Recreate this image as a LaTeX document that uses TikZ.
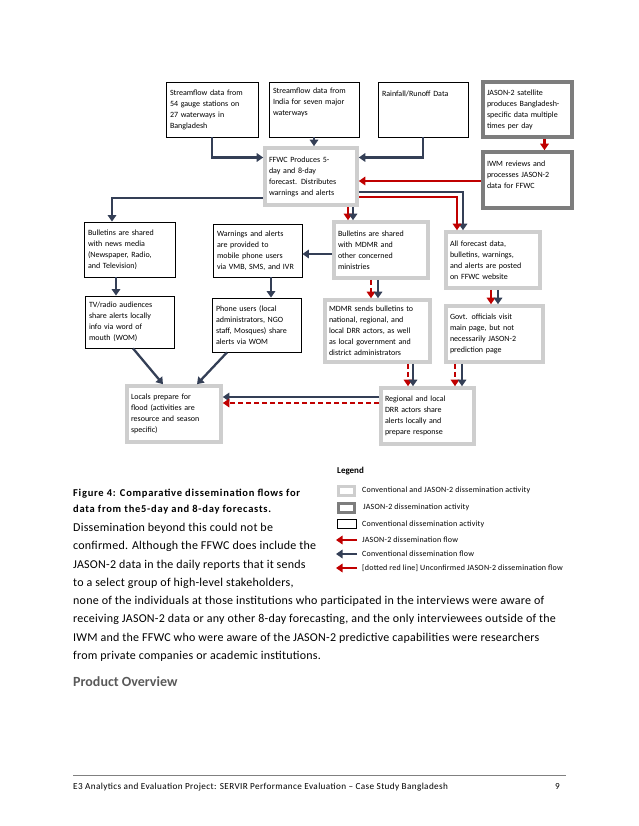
\documentclass[tikz,border=0pt]{standalone}
\usepackage{fontspec}
\setmainfont{Carlito}
\usepackage{tikz}
\usetikzlibrary{positioning, arrows.meta, calc}

\definecolor{jred}{RGB}{192,0,0}
\definecolor{navy}{RGB}{52,63,86}
\definecolor{lightrim}{RGB}{206,206,206}
\definecolor{darkrim}{RGB}{125,125,125}
\definecolor{heading}{RGB}{89,89,89}

\begin{document}
\begin{tikzpicture}[
  x=1pt, y=-1pt,
  activity/.style={align=left, inner xsep=4pt, inner ysep=4pt, fill=white, font=\fontsize{8}{11}\selectfont},
  conv/.style={activity, draw=black, line width=0.8pt},
  both/.style={activity, draw=lightrim, line width=3.6pt},
  jason/.style={activity, draw=darkrim, line width=3.6pt},
  flow/.style={line width=2.3pt, -{Triangle[length=6.5pt,width=8.5pt]}},
  cflow/.style={flow, draw=navy},
  jflow/.style={flow, draw=jred},
  uflow/.style={jflow, dash pattern=on 5pt off 3pt},
  body/.style={anchor=base west, inner sep=0pt, font=\fontsize{12}{14}\selectfont\addfontfeature{LetterSpace=2}},
  keytext/.style={anchor=west, inner sep=0pt, font=\fontsize{8}{9}\selectfont\addfontfeature{LetterSpace=3}},
  captext/.style={anchor=base west, inner sep=0pt, font=\fontsize{10.5}{12}\selectfont\bfseries\addfontfeature{LetterSpace=7}}
]
\useasboundingbox (0,0) rectangle (638,826);

% Sources
\node[conv, text width=84pt, minimum height=55pt] (srcgauge) at (212,109.5) {Streamflow data from\\54 gauge stations on\\27 waterways in\\Bangladesh};
\node[conv, text width=82pt, minimum height=55pt, text depth=37pt] (srcindia) at (314,109.5) {Streamflow data from\\India for seven major\\waterways};
\node[conv, text width=82pt, minimum height=55pt, text depth=31pt] (rainfall) at (423,109.5) {Rainfall/Runoff Data};
\node[jason, text width=81pt, minimum height=55pt] (jsat) at (527.5,109.5) {JASON-2 satellite\\produces Bangladesh-\\specific data multiple\\times per day};

% Forecast centre
\node[both, text width=84pt, minimum height=57pt] (ffwc) at (311,176.5) {FFWC Produces 5-\\day and 8-day\\forecast. Distributes\\warnings and alerts};
\node[jason, text width=81pt, minimum height=56pt, text depth=32pt] (iwm) at (527.5,180) {IWM reviews and\\processes JASON-2\\data for FFWC};

% Second row
\node[conv, text width=83pt, minimum height=55pt] (news) at (129.5,249.5) {Bulletins are shared\\with news media\\(Newspaper, Radio,\\and Television)};
\node[conv, text width=81pt, minimum height=53pt] (warn) at (257.5,250.5) {Warnings and alerts\\are provided to\\mobile phone users\\via VMB, SMS, and IVR};
\node[both, text width=86pt, minimum height=56pt] (bmdmr) at (381,250) {Bulletins are shared\\with MDMR and\\other concerned\\ministries};
\node[both, text width=86pt, minimum height=56pt] (web) at (493,260) {All forecast data,\\bulletins, warnings,\\and alerts are posted\\on FFWC website};

% Third row
\node[conv, text width=81pt, minimum height=52pt] (tv) at (129.5,322) {TV/radio audiences\\share alerts locally\\info via word of\\mouth (WOM)};
\node[conv, text width=81pt, minimum height=54pt] (phone) at (256.5,325) {Phone users (local\\administrators, NGO\\staff, Mosques) share\\alerts via WOM};
\node[both, text width=97pt, minimum height=62pt] (sends) at (377.5,331) {MDMR sends bulletins to\\national, regional, and\\local DRR actors, as well\\as local government and\\district administrators};
\node[both, text width=89pt, minimum height=56pt] (govt) at (494.5,334) {Govt. officials visit\\main page, but not\\necessarily JASON-2\\prediction page};

% Last row
\node[both, text width=86pt, minimum height=56pt] (locals) at (174,414) {Locals prepare for\\flood (activities are\\resource and season\\specific)};
\node[both, text width=85pt, minimum height=56pt] (regional) at (427.5,416) {Regional and local\\DRR actors share\\alerts locally and\\prepare response};

% Flows into FFWC
\draw[cflow] (srcgauge.south) |- ([yshift=19pt]ffwc.west);
\draw[cflow] (srcindia.south) -- (srcindia.south |- ffwc.north);
\draw[cflow] (rainfall.south) |- ([yshift=19pt]ffwc.east);
\draw[jflow] ([xshift=17pt]jsat.south) -- ([xshift=17pt]jsat.south |- iwm.north);
\draw[jflow] ([yshift=-1pt]iwm.west) -- ([yshift=-1pt]iwm.west -| ffwc.east);

% Flows out of FFWC
\draw[cflow] ([yshift=-21.5pt]ffwc.west) -| ([xshift=-17.5pt]news.north);
\draw[jflow] ([xshift=37pt]ffwc.south) -- ([xshift=37pt]ffwc.south |- bmdmr.north);
\draw[cflow] ([xshift=42pt]ffwc.south) -- ([xshift=42pt]ffwc.south |- bmdmr.north);
\draw[cflow] ([yshift=-15.5pt]ffwc.east) -| ([xshift=-30pt]web.north);
\draw[jflow] ([yshift=-20.5pt]ffwc.east) -| ([xshift=-36pt]web.north);

% Second row onwards
\draw[cflow] ([yshift=-4pt]bmdmr.west) -- ([yshift=-4pt]bmdmr.west -| warn.east);
\draw[cflow] ([xshift=-13.5pt]news.south) -- ([xshift=-13.5pt]news.south |- tv.north);
\draw[cflow] ([xshift=13.5pt]warn.south) -- ([xshift=13.5pt]warn.south |- phone.north);
\draw[uflow] ([xshift=-10pt]bmdmr.south) -- ([xshift=-10pt]bmdmr.south |- sends.north);
\draw[cflow] ([xshift=-3pt]bmdmr.south) -- ([xshift=-3pt]bmdmr.south |- sends.north);
\draw[jflow] ([xshift=-2pt]web.south) -- ([xshift=-2pt]web.south |- govt.north);
\draw[cflow] ([xshift=5pt]web.south) -- ([xshift=5pt]web.south |- govt.north);

% Towards local action
\draw[cflow] ([xshift=3.5pt]tv.south) -- ([xshift=-11pt]locals.north);
\draw[cflow] ([xshift=-29.5pt]phone.south) -- ([xshift=23pt]locals.north);
\draw[uflow] ([xshift=30.5pt]sends.south) -- ([xshift=30.5pt]sends.south |- regional.north);
\draw[cflow] ([xshift=35.5pt]sends.south) -- ([xshift=35.5pt]sends.south |- regional.north);
\draw[uflow] ([xshift=-39.5pt]govt.south) -- ([xshift=-39.5pt]govt.south |- regional.north);
\draw[cflow] ([xshift=-32.5pt]govt.south) -- ([xshift=-32.5pt]govt.south |- regional.north);
\draw[cflow] ([yshift=19pt]regional.west) -- ([yshift=19pt]regional.west -| locals.east);
\draw[uflow] ([yshift=13pt]regional.west) -- ([yshift=13pt]regional.west -| locals.east);

% Legend
\node[anchor=base west, inner sep=0pt, font=\fontsize{9}{10}\selectfont\bfseries] (legend) at (337,473) {Legend};
\node[both, minimum width=16pt, minimum height=9pt, inner sep=0pt, line width=3pt] (keyboth) at (346.5,490.5) {};
\node[jason, minimum width=16pt, minimum height=9pt, inner sep=0pt, line width=3pt] (keyjason) at (346.5,508) {};
\node[conv, minimum width=19pt, minimum height=9pt, inner sep=0pt] (keyconv) at (346.5,524) {};
\coordinate (keyjs) at (357,540);
\coordinate (keyje) at (336,540);
\coordinate (keycs) at (357,554);
\coordinate (keyce) at (336,554);
\coordinate (keyus) at (357,568);
\coordinate (keyue) at (336,568);
\draw[jflow] (keyjs) -- (keyje);
\draw[cflow] (keycs) -- (keyce);
\draw[jflow] (keyus) -- (keyue);
\node[keytext] (keybothtext) at (362,490) {Conventional and JASON-2 dissemination activity};
\node[keytext] (keyjasontext) at (363,507.5) {JASON-2 dissemination activity};
\node[keytext] (keyconvtext) at (362,524) {Conventional dissemination activity};
\node[keytext] (keyjstext) at (362,540) {JASON-2 dissemination flow};
\node[keytext] (keycstext) at (362,554) {Conventional dissemination flow};
\node[keytext] (keyustext) at (362,568) {[dotted red line] Unconfirmed JASON-2 dissemination flow};

% Caption and text
\node[captext] (cap1) at (73,496) {Figure 4: Comparative dissemination flows for};
\node[captext] (cap2) at (73,512) {data from the5-day and 8-day forecasts.};
\node[body] (line1) at (73,531) {Dissemination beyond this could not be};
\node[body] (line2) at (73,549) {confirmed. Although the FFWC does include the};
\node[body] (line3) at (73,568) {JASON-2 data in the daily reports that it sends};
\node[body] (line4) at (73,586) {to a select group of high-level stakeholders,};
\node[body] (line5) at (73,604) {none of the individuals at those institutions who participated in the interviews were aware of};
\node[body] (line6) at (73,622) {receiving JASON-2 data or any other 8-day forecasting, and the only interviewees outside of the};
\node[body] (line7) at (73,641) {IWM and the FFWC who were aware of the JASON-2 predictive capabilities were researchers};
\node[body] (line8) at (73,659) {from private companies or academic institutions.};
\node[anchor=base west, inner sep=0pt, font=\fontsize{14}{16}\selectfont\bfseries, text=heading] (overview) at (73,686) {Product Overview};

% Footer
\coordinate (rulel) at (73,775);
\coordinate (ruler) at (566,775);
\draw[gray, line width=0.7pt] (rulel) -- (ruler);
\node[anchor=base west, inner sep=0pt, font=\fontsize{9.2}{10}\selectfont\addfontfeature{LetterSpace=4}] (footer) at (73,789) {E3 Analytics and Evaluation Project: SERVIR Performance Evaluation -- Case Study Bangladesh};
\node[anchor=base east, inner sep=0pt, font=\fontsize{9.2}{10}\selectfont] (pagenum) at (560,789) {9};
\end{tikzpicture}
\end{document}
